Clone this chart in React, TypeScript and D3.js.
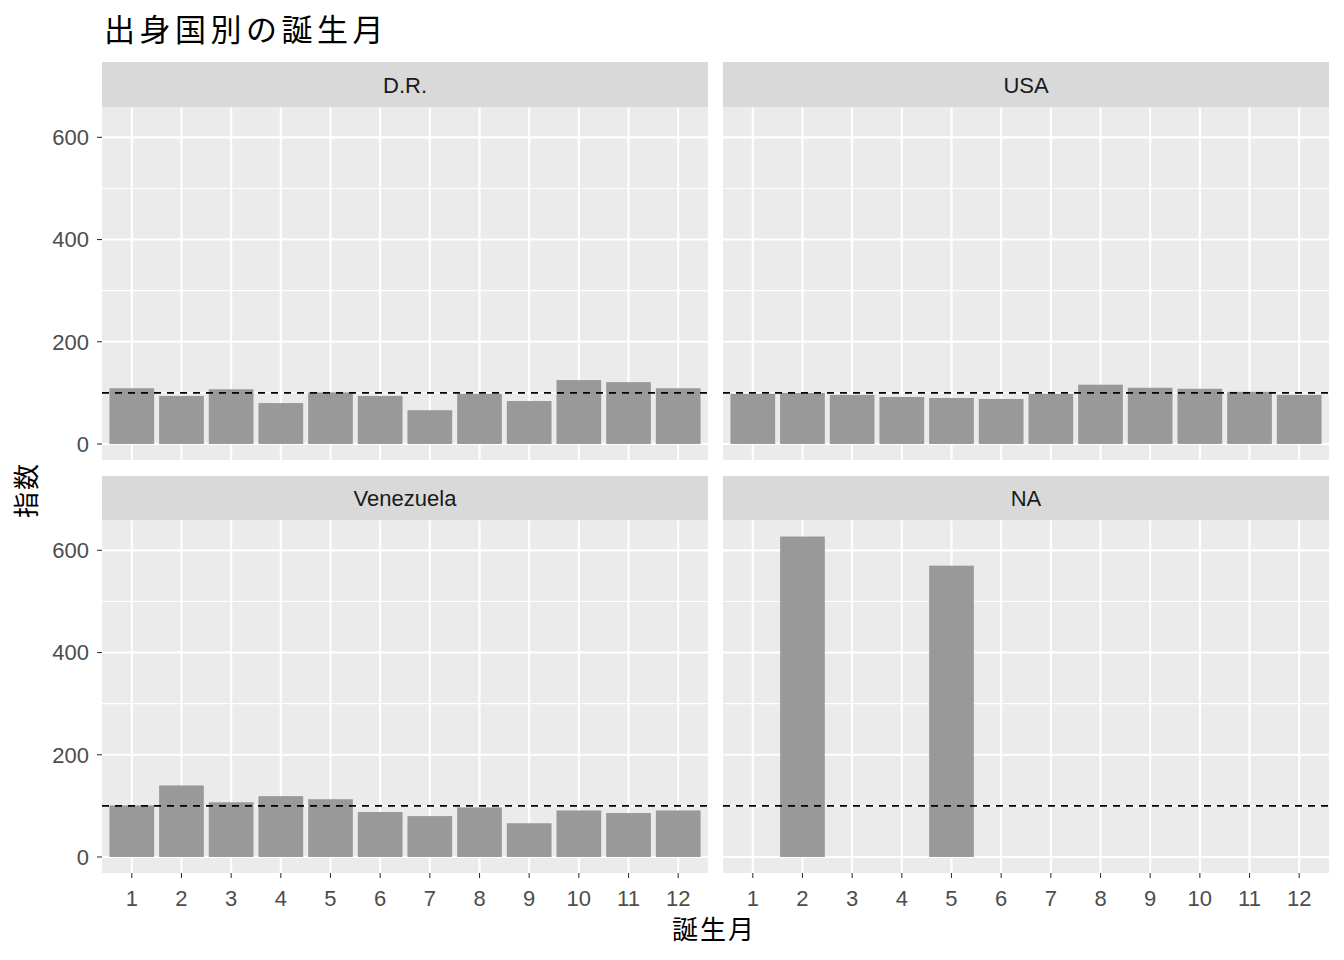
import { useEffect, useRef } from "react";
import * as d3 from "d3";

const months = ["1", "2", "3", "4", "5", "6", "7", "8", "9", "10", "11", "12"];
const countries = ["D.R.", "USA", "Venezuela", "NA"];

const drValues = [109, 94, 107, 80, 101, 94, 66, 98, 84, 125, 121, 109];
const usaValues = [98, 100, 96, 92, 90, 88, 98, 116, 110, 108, 102, 96];
const venValues = [101, 140, 107, 119, 113, 88, 80, 97, 66, 91, 86, 91];
const naValues = [0, 627, 0, 0, 570, 0, 0, 0, 0, 0, 0, 0];

const yTicks = [0, 200, 400, 600];
const yMinor = [100, 300, 500];
const refLine = 100;

const FONT = "'Liberation Sans', Arial, 'Noto Sans CJK JP', sans-serif";
const CJK = "'Noto Sans CJK JP', sans-serif";

export default function App() {
  const svgRef = useRef<SVGSVGElement>(null);

  useEffect(() => {
    if (!svgRef.current) return;
    const width = 1344;
    const height = 960;
    const svg = d3.select(svgRef.current);
    svg.selectAll("*").remove();
    svg.attr("viewBox", `0 0 ${width} ${height}`);

    svg.append("rect").attr("width", width).attr("height", height).attr("fill", "#fff");

    const series = [drValues, usaValues, venValues, naValues];
    const maxV = d3.max(series.flat())!;
    const pad = maxV * 0.05;

    const cols = [
      [102, 708],
      [723, 1329],
    ];
    const rows = [
      { strip: 62, top: 107.5, bottom: 460 },
      { strip: 476, top: 520.5, bottom: 873 },
    ];

    countries.forEach((name, i) => {
      const [x0, x1] = cols[i % 2];
      const row = rows[Math.floor(i / 2)];
      const values = series[i];
      const g = svg.append("g");

      // ggplot discrete expansion: 0.6 of a step on each side
      const x = d3
        .scaleBand<string>()
        .domain(months)
        .range([x0, x1])
        .paddingInner(0.1)
        .paddingOuter(0.15);
      const y = d3
        .scaleLinear()
        .domain([-pad, maxV + pad])
        .range([row.bottom, row.top]);

      // strip
      g.append("rect")
        .attr("x", x0)
        .attr("y", row.strip)
        .attr("width", x1 - x0)
        .attr("height", row.top - row.strip)
        .attr("fill", "#D9D9D9");
      g.append("text")
        .attr("x", (x0 + x1) / 2)
        .attr("y", (row.strip + row.top) / 2)
        .attr("dy", "0.36em")
        .attr("text-anchor", "middle")
        .attr("font-family", FONT)
        .attr("font-size", 22)
        .attr("fill", "#1A1A1A")
        .text(name);

      // panel
      g.append("rect")
        .attr("x", x0)
        .attr("y", row.top)
        .attr("width", x1 - x0)
        .attr("height", row.bottom - row.top)
        .attr("fill", "#EBEBEB");

      g.selectAll(".minor")
        .data(yMinor)
        .join("line")
        .attr("x1", x0)
        .attr("x2", x1)
        .attr("y1", (d) => y(d))
        .attr("y2", (d) => y(d))
        .attr("stroke", "#fff")
        .attr("stroke-width", 1.07);
      g.selectAll(".major")
        .data(yTicks)
        .join("line")
        .attr("x1", x0)
        .attr("x2", x1)
        .attr("y1", (d) => y(d))
        .attr("y2", (d) => y(d))
        .attr("stroke", "#fff")
        .attr("stroke-width", 2.13);
      const cx = (m: string) => x(m)! + x.bandwidth() / 2;
      g.selectAll(".vgrid")
        .data(months)
        .join("line")
        .attr("x1", cx)
        .attr("x2", cx)
        .attr("y1", row.top)
        .attr("y2", row.bottom)
        .attr("stroke", "#fff")
        .attr("stroke-width", 2.13);

      // bars
      g.selectAll(".bar")
        .data(months.map((m, k) => ({ m, v: values[k] })).filter((d) => d.v > 0))
        .join("rect")
        .attr("x", (d) => x(d.m)!)
        .attr("width", x.bandwidth())
        .attr("y", (d) => y(d.v))
        .attr("height", (d) => y(0) - y(d.v))
        .attr("fill", "#999999");

      // reference line
      g.append("line")
        .attr("x1", x0)
        .attr("x2", x1)
        .attr("y1", y(refLine))
        .attr("y2", y(refLine))
        .attr("stroke", "#000")
        .attr("stroke-width", 1.6)
        .attr("stroke-dasharray", "7,6");

      // y axis on left column
      if (i % 2 === 0) {
        yTicks.forEach((t) => {
          g.append("line")
            .attr("x1", x0 - 5)
            .attr("x2", x0)
            .attr("y1", y(t))
            .attr("y2", y(t))
            .attr("stroke", "#333")
            .attr("stroke-width", 1.07);
          g.append("text")
            .attr("x", x0 - 13)
            .attr("y", y(t))
            .attr("dy", "0.36em")
            .attr("text-anchor", "end")
            .attr("font-family", FONT)
            .attr("font-size", 22)
            .attr("fill", "#4D4D4D")
            .text(t);
        });
      }

      // x axis on bottom row
      if (i >= 2) {
        months.forEach((m) => {
          g.append("line")
            .attr("x1", cx(m))
            .attr("x2", cx(m))
            .attr("y1", row.bottom)
            .attr("y2", row.bottom + 5)
            .attr("stroke", "#333")
            .attr("stroke-width", 1.07);
          g.append("text")
            .attr("x", cx(m))
            .attr("y", row.bottom + 25)
            .attr("dy", "0.36em")
            .attr("text-anchor", "middle")
            .attr("font-family", FONT)
            .attr("font-size", 22)
            .attr("fill", "#4D4D4D")
            .text(m);
        });
      }
    });

    // titles
    svg
      .append("text")
      .attr("x", 104)
      .attr("y", 41)
      .attr("font-family", CJK)
      .attr("font-size", 31)
      .attr("letter-spacing", 4.5)
      .attr("fill", "#000")
      .text("出身国別の誕生月");
    svg
      .append("text")
      .attr("x", 714)
      .attr("y", 930)
      .attr("dy", "0.36em")
      .attr("text-anchor", "middle")
      .attr("font-family", CJK)
      .attr("font-size", 26)
      .attr("letter-spacing", 2)
      .attr("fill", "#000")
      .text("誕生月");
    svg
      .append("text")
      .attr("transform", "translate(27,490) rotate(-90)")
      .attr("dy", "0.36em")
      .attr("text-anchor", "middle")
      .attr("font-family", CJK)
      .attr("font-size", 26)
      .attr("letter-spacing", 2)
      .attr("fill", "#000")
      .text("指数");
  }, []);

  return (
    <svg
      ref={svgRef}
      width={1344}
      height={960}
      style={{ display: "block", position: "absolute", left: 0, top: 0 }}
    />
  );
}
